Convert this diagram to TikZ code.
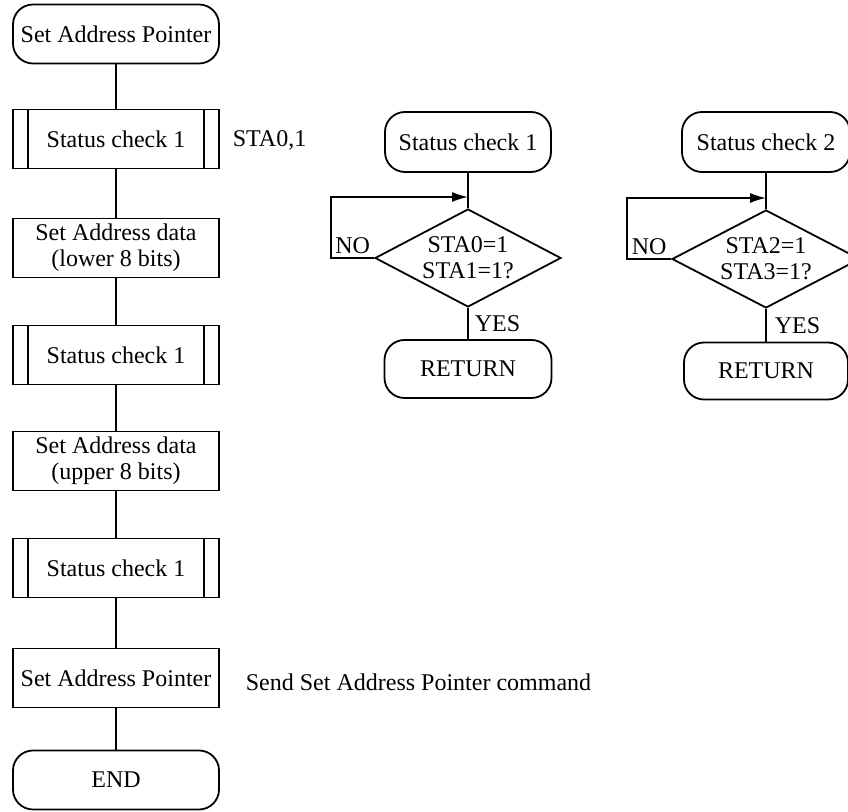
\documentclass[tikz,border=0pt]{standalone}
\usepackage{fontspec}
\setmainfont{Liberation Serif}
\usetikzlibrary{arrows.meta, shapes.geometric}

\begin{document}
\begin{tikzpicture}[
  x=0.5pt, y=-0.5pt,
  term/.style={rectangle, rounded corners=10pt, draw, minimum width=103pt, minimum height=29.5pt, align=center, inner sep=1pt},
  proc/.style={rectangle, draw, minimum width=103pt, minimum height=29.5pt, align=center, inner sep=1pt},
  subr/.style={proc, path picture={
      \draw ([xshift=7.5pt]path picture bounding box.north west) -- ([xshift=7.5pt]path picture bounding box.south west)
            ([xshift=-7.5pt]path picture bounding box.north east) -- ([xshift=-7.5pt]path picture bounding box.south east);}},
  dec/.style={diamond, aspect=2, draw, inner sep=0pt, minimum width=93pt, minimum height=49pt, align=center},
  loop/.style={-{Latex[length=8pt, width=5pt]}, line width=0.7pt},
  line width=0.9pt, font=\fontsize{12}{13}\selectfont
]
  \useasboundingbox (0,0) rectangle (848,812);

  % main flow
  \node[term] (start) at (116,34) {Set Address Pointer};
  \node[subr] (chkA) at (116,139) {Status check 1};
  \node[proc] (lowB) at (116,248) {Set Address data\\(lower 8 bits)};
  \node[subr] (chkB) at (116,355) {Status check 1};
  \node[proc] (uppB) at (116,461) {Set Address data\\(upper 8 bits)};
  \node[subr] (chkC) at (116,568) {Status check 1};
  \node[proc] (ptr) at (116,678) {Set Address Pointer};
  \node[term] (fin) at (116,780) {END};

  \node[anchor=west, inner sep=0pt] (staLbl) at (232,140) {STA0,1};
  \node[anchor=west, inner sep=0pt] (sendLbl) at (245,682) {Send Set Address Pointer command};

  \draw (start) -- (chkA) -- (lowB) -- (chkB) -- (uppB) -- (chkC) -- (ptr) -- (fin);

  % status check 1
  \node[term, minimum width=83pt, minimum height=30pt] (scA) at (468,142) {Status check 1};
  \node[dec] (decA) at (468,258) {STA0=1\\STA1=1?};
  \node[term, minimum width=83.5pt, minimum height=29pt] (retA) at (468,369) {RETURN};
  \coordinate (joinA) at (468,197);

  \draw (scA) -- (decA) -- node[right, inner sep=3pt] {YES} (retA);
  \draw[loop] (decA.west) -- node[above, inner sep=2pt] {NO} ++(-43,0) |- (joinA);

  % status check 2
  \node[term, minimum width=84pt, minimum height=30pt] (scB) at (766,142) {Status check 2};
  \node[dec, minimum width=94pt] (decB) at (766,259) {STA2=1\\STA3=1?};
  \node[term, minimum width=82pt, minimum height=28.5pt] (retB) at (766,371) {RETURN};
  \coordinate (joinB) at (766,198);

  \draw (scB) -- (decB) -- node[right, inner sep=4pt] {YES} (retB);
  \draw[loop] (decB.west) -- node[above, inner sep=2pt] {NO} ++(-44,0) |- (joinB);
\end{tikzpicture}
\end{document}
